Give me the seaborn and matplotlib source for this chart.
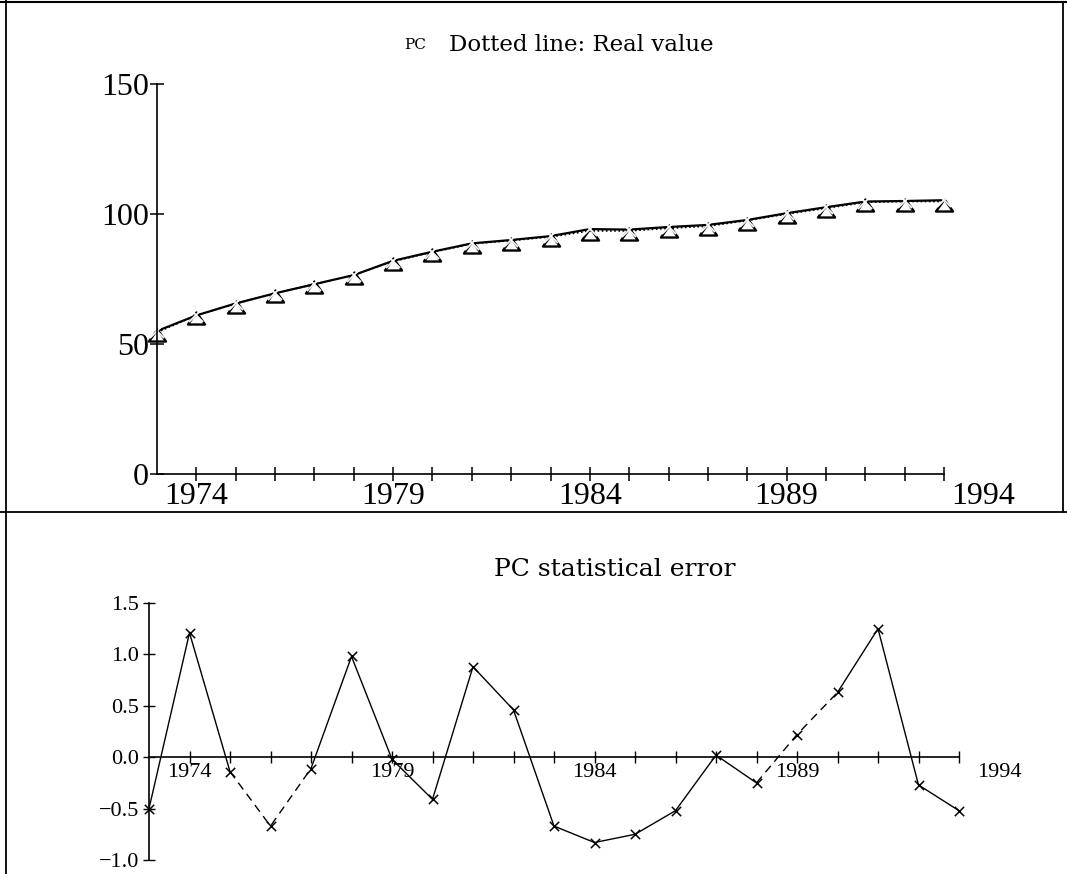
import numpy as np
import pandas as pd
import matplotlib
matplotlib.use("Agg")
import matplotlib.pyplot as plt
import seaborn as sns
from matplotlib.lines import Line2D
from matplotlib.path import Path

# ---------------- data ----------------
years = list(range(1973, 1994))
pc_model = [55.0, 61.0, 65.6, 69.5, 73.0, 76.5, 82.0, 85.5, 88.7, 90.0, 91.5,
            94.2, 94.0, 95.0, 95.8, 97.7, 100.3, 102.6, 104.8, 105.0, 105.3]
pc_real = [54.5, 61.0, 65.5, 69.5, 73.0, 76.5, 81.8, 85.3, 88.5, 89.8, 91.2,
           93.5, 93.5, 94.5, 95.3, 97.5, 100.0, 102.2, 104.5, 104.8, 104.8]
pc_error = [-0.50, 1.21, -0.14, -0.67, -0.11, 0.98, -0.02, -0.41, 0.88, 0.46,
            -0.67, -0.83, -0.75, -0.52, 0.02, -0.25, 0.22, 0.63, 1.25, -0.27, -0.52]
label_years = [1974, 1979, 1984, 1989, 1994]
top_yticks = [0, 50, 100, 150]
bottom_yticks = [-1.0, -0.5, 0.0, 0.5, 1.0, 1.5]
bottom_yticklabels = ["\u22121.0", "\u22120.5", "0.0", "0.5", "1.0", "1.5"]
top_title_small = "PC"
top_title = "Dotted line: Real value"
bottom_title = "PC statistical error"
# parts of the error curve printed solid / dashed (start year, end year)
solid_spans = [(1973, 1975), (1977, 1988), (1990, 1993)]
dashed_spans = [(1975, 1977), (1988, 1990)]

df_top = pd.DataFrame({"year": years, "model": pc_model, "real": pc_real})
df_err = pd.DataFrame({"year": years, "err": pc_error})

# ---------------- style ----------------
sns.set_theme(style="white")
plt.rcParams['font.family'] = ['Liberation Serif', 'DejaVu Serif']
plt.rcParams['axes.edgecolor'] = 'black'
plt.rcParams['axes.linewidth'] = 1.2
plt.rcParams['text.color'] = 'black'

W, H = 1067, 874
fig = plt.figure(figsize=(W / 100, H / 100), dpi=100)

def fx(px):
    return px / W

def fy(py):
    return 1 - py / H

# flattened open triangle, apex slightly above the data point
tri = Path([(0, 3), (-8.5, -9), (8.5, -9), (0, 3)],
           [Path.MOVETO, Path.LINETO, Path.LINETO, Path.CLOSEPOLY])

# ---------------- top panel ----------------
x0, x1 = 157, 944          # pixel of 1973 and 1993
ppy = (x1 - x0) / 20
ax1 = fig.add_axes([fx(x0), fy(474), fx(x0 + 22 * ppy) - fx(x0), (474 - 84) / H])
sns.lineplot(data=df_top, x="year", y="real", ax=ax1, color="black", lw=1.2,
             linestyle=(0, (1, 1.5)), marker=tri, markersize=13,
             markerfacecolor="none", markeredgecolor="black", markeredgewidth=1.7,
             clip_on=False)
sns.lineplot(data=df_top, x="year", y="model", ax=ax1, color="black", lw=1.6,
             marker="x", markersize=10, markeredgewidth=1.3, clip_on=False)
ax1.set_xlim(1973, 1995)
ax1.set_ylim(0, 150)
for s in ["top", "right"]:
    ax1.spines[s].set_visible(False)
ax1.spines["bottom"].set_bounds(1973, 1993)
ax1.set_xticks(label_years)
ax1.set_xticklabels([str(y) for y in label_years], fontsize=23)
ax1.set_xticks(years[1:], minor=True)
ax1.set_yticks(top_yticks)
ax1.set_yticklabels([str(v) for v in top_yticks], fontsize=23)
ax1.tick_params(axis="both", which="both", direction="inout", length=10,
                width=1.1, color="black", labelcolor="black",
                bottom=True, left=True)
ax1.tick_params(axis="x", which="major", pad=1)
ax1.tick_params(axis="y", which="major", pad=1)
ax1.xaxis.get_major_ticks()[-1].tick1line.set_visible(False)
ax1.set_xlabel("")
ax1.set_ylabel("")
ax1.grid(False)

fig.text(fx(415), fy(45), top_title_small, fontsize=11, family="DejaVu Serif",
         ha="center", va="center", color="black")
fig.text(fx(449), fy(45), top_title, fontsize=16.5, family="DejaVu Serif",
         ha="left", va="center", color="black")

# ---------------- bottom panel ----------------
bx0 = 149
bppy = 40.5
ax2 = fig.add_axes([fx(bx0), fy(860), fx(bx0 + 22 * bppy) - fx(bx0), (860 - 603) / H])
for a, b in solid_spans:
    sub = df_err[(df_err.year >= a) & (df_err.year <= b)]
    sns.lineplot(data=sub, x="year", y="err", ax=ax2, color="black", lw=1.0,
                 clip_on=False)
for a, b in dashed_spans:
    sub = df_err[(df_err.year >= a) & (df_err.year <= b)]
    sns.lineplot(data=sub, x="year", y="err", ax=ax2, color="black", lw=1.0,
                 linestyle=(0, (6, 4)), clip_on=False)
sns.scatterplot(data=df_err, x="year", y="err", ax=ax2, marker="x", s=45,
                color="black", linewidth=1.1, clip_on=False, zorder=5)
ax2.set_xlim(1973, 1995)
ax2.set_ylim(-1.0, 1.5)
for s in ["top", "right"]:
    ax2.spines[s].set_visible(False)
ax2.spines["bottom"].set_position(("data", 0))
ax2.spines["bottom"].set_bounds(1973, 1993)
ax2.set_xticks(label_years)
ax2.set_xticklabels([str(y) for y in label_years], fontsize=16)
ax2.set_xticks(years[1:], minor=True)
ax2.set_yticks(bottom_yticks)
ax2.set_yticklabels(bottom_yticklabels, fontsize=16)
ax2.tick_params(axis="both", which="both", direction="inout", length=8,
                width=1.0, color="black", labelcolor="black",
                bottom=True, left=True)
ax2.tick_params(axis="x", which="major", pad=0)
ax2.tick_params(axis="y", which="major", pad=3)
ax2.xaxis.get_major_ticks()[-1].tick1line.set_visible(False)
ax2.set_xlabel("")
ax2.set_ylabel("")
ax2.grid(False)

fig.text(fx(615), fy(570), bottom_title, fontsize=18, family="DejaVu Serif",
         ha="center", va="center", color="black")

# ---------------- frame lines ----------------
sep = 512
fig.add_artist(Line2D([fx(0), fx(W)], [fy(1.5), fy(1.5)], color="black", lw=1.5))
fig.add_artist(Line2D([fx(6), fx(6)], [fy(0), fy(H)], color="black", lw=1.3))
fig.add_artist(Line2D([fx(1063), fx(1063)], [fy(1.5), fy(sep)], color="black", lw=1.3))
fig.add_artist(Line2D([fx(0), fx(W)], [fy(sep), fy(sep)], color="black", lw=1.3))

fig.savefig("out.png", dpi=100)
